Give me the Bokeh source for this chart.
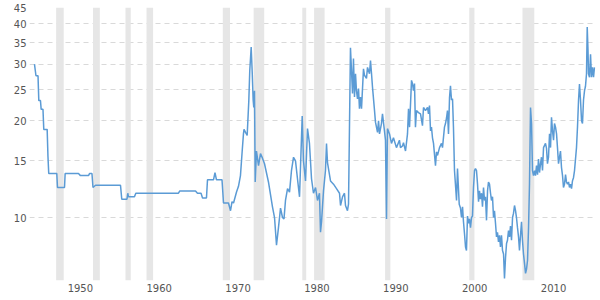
from bokeh.plotting import figure
from bokeh.models import Range1d, FixedTicker, BoxAnnotation, ColumnDataSource
from bokeh.embed import file_html
from bokeh.resources import INLINE

# Gold-to-oil ratio (monthly-ish samples)
years = [
    1946.08, 1946.27, 1946.53, 1946.63, 1946.84, 1946.93, 1947.16, 1947.26, 1947.69, 1947.79,
    1947.89, 1948.91, 1949.00, 1949.89, 1949.97, 1951.66, 1951.91, 1952.93, 1953.06, 1953.37,
    1953.50, 1953.82, 1956.99, 1957.15, 1957.81, 1957.91, 1958.00, 1958.76, 1958.93, 1964.34,
    1964.51, 1966.50, 1966.75, 1967.20, 1967.39, 1967.89, 1968.02, 1968.78, 1968.97, 1969.16,
    1969.86, 1970.05, 1970.68, 1970.94, 1971.13, 1971.32, 1971.70, 1971.95, 1972.20, 1972.42,
    1972.58, 1972.65, 1972.84, 1973.05, 1973.26, 1973.38, 1973.56, 1973.69, 1973.81, 1973.89,
    1973.98, 1974.07, 1974.23, 1974.49, 1974.74, 1974.99, 1975.25, 1975.75, 1976.26, 1976.52,
    1976.77, 1977.02, 1977.28, 1977.53, 1977.72, 1977.91, 1978.17, 1978.42, 1978.67, 1978.93,
    1979.18, 1979.43, 1979.69, 1980.03, 1980.19, 1980.45, 1980.70, 1980.95, 1981.21, 1981.46,
    1981.72, 1981.97, 1982.22, 1982.35, 1982.48, 1982.73, 1982.98, 1983.11, 1983.24, 1983.62,
    1984.00, 1984.38, 1984.76, 1984.89, 1985.14, 1985.39, 1985.52, 1985.77, 1985.90, 1986.15,
    1986.41, 1986.53, 1986.66, 1986.79, 1986.91, 1987.04, 1987.17, 1987.29, 1987.42, 1987.55,
    1987.80, 1987.93, 1988.18, 1988.31, 1988.56, 1988.69, 1988.82, 1988.94, 1989.20, 1989.32,
    1989.58, 1989.71, 1989.83, 1990.08, 1990.21, 1990.46, 1990.59, 1990.72, 1990.84, 1991.10,
    1991.35, 1991.60, 1991.98, 1992.36, 1992.49, 1992.75, 1992.87, 1993.13, 1993.38, 1993.51,
    1993.64, 1993.89, 1994.01, 1994.14, 1994.27, 1994.39, 1994.52, 1994.77, 1995.03, 1995.28,
    1995.41, 1995.66, 1995.92, 1996.04, 1996.17, 1996.30, 1996.42, 1996.55, 1996.68, 1996.93,
    1997.06, 1997.19, 1997.44, 1997.69, 1997.82, 1998.07, 1998.20, 1998.33, 1998.45, 1998.58,
    1998.71, 1998.83, 1998.96, 1999.09, 1999.21, 1999.34, 1999.60, 1999.72, 1999.94, 2000.10,
    2000.23, 2000.36, 2000.48, 2000.61, 2000.74, 2000.86, 2000.99, 2001.12, 2001.24, 2001.37,
    2001.50, 2001.62, 2001.75, 2001.88, 2002.00, 2002.13, 2002.26, 2002.39, 2002.51, 2002.64,
    2002.77, 2002.89, 2003.02, 2003.15, 2003.27, 2003.40, 2003.53, 2003.65, 2003.78, 2003.91,
    2004.03, 2004.16, 2004.29, 2004.41, 2004.54, 2004.67, 2004.79, 2004.92, 2005.05, 2005.17,
    2005.30, 2005.43, 2005.56, 2005.68, 2005.81, 2005.94, 2006.06, 2006.19, 2006.32, 2006.44,
    2006.57, 2006.70, 2006.82, 2006.95, 2007.08, 2007.20, 2007.33, 2007.46, 2007.58, 2007.71,
    2007.84, 2007.96, 2008.09, 2008.22, 2008.35, 2008.47, 2008.60, 2008.73, 2008.85, 2008.98,
    2009.11, 2009.23, 2009.36, 2009.49, 2009.61, 2009.74, 2009.87, 2009.99, 2010.12, 2010.25,
    2010.37, 2010.50, 2010.63, 2010.88, 2011.01, 2011.13, 2011.26, 2011.39, 2011.52, 2011.64,
    2011.77, 2011.90, 2012.02, 2012.15, 2012.28, 2012.40, 2012.53, 2012.66, 2012.78, 2012.91,
    2013.04, 2013.16, 2013.29, 2013.42, 2013.54, 2013.67, 2013.80, 2013.92, 2014.05, 2014.18,
    2014.30, 2014.43, 2014.56, 2014.81, 2014.94, 2015.07, 2015.19, 2015.32, 2015.45, 2015.57,
    2015.70, 2015.83, 2015.95, 2016.08, 2016.17, 2016.27, 2016.33, 2016.46, 2016.59, 2016.71,
    2016.84, 2016.97, 2017.09,
]
ratio = [
    30.0, 27.6, 27.6, 23.1, 23.1, 21.7, 21.7, 18.8, 18.8, 15.5,
    13.7, 13.7, 12.4, 12.4, 13.7, 13.7, 13.5, 13.5, 13.7, 13.7,
    12.4, 12.6, 12.6, 11.4, 11.4, 11.9, 11.6, 11.6, 11.9, 11.9,
    12.1, 12.1, 11.9, 11.9, 11.5, 11.5, 13.1, 13.1, 13.8, 13.1,
    13.1, 11.1, 11.1, 10.5, 11.2, 11.1, 12.0, 12.5, 13.5, 16.1,
    18.2, 18.8, 18.4, 18.0, 23.1, 28.6, 33.9, 28.3, 23.2, 22.0,
    24.8, 12.9, 16.1, 14.5, 15.8, 15.3, 14.7, 12.9, 10.8, 10.0,
    8.2, 9.3, 10.7, 10.0, 9.9, 11.3, 12.3, 12.0, 14.0, 15.4,
    15.0, 13.2, 11.6, 20.7, 15.0, 13.0, 18.9, 17.0, 13.2, 11.9,
    12.4, 11.3, 11.9, 9.0, 9.7, 12.1, 14.0, 17.0, 14.8, 13.0,
    12.7, 12.3, 11.9, 10.9, 11.6, 11.9, 10.9, 10.5, 11.0, 33.7,
    24.3, 31.2, 23.7, 28.0, 24.8, 23.4, 25.2, 21.8, 23.7, 21.8,
    29.0, 27.7, 27.1, 29.3, 28.0, 30.8, 28.0, 25.5, 21.5, 19.8,
    18.4, 20.0, 18.2, 19.6, 21.0, 18.6, 17.4, 9.9, 18.9, 18.2,
    17.0, 17.7, 16.5, 17.4, 16.5, 16.7, 17.1, 16.1, 18.2, 21.8,
    19.1, 26.7, 26.1, 24.8, 26.1, 19.1, 21.5, 21.2, 21.0, 19.3,
    22.0, 21.5, 22.0, 21.0, 22.3, 18.6, 19.1, 17.7, 17.0, 14.5,
    16.0, 15.6, 16.5, 17.0, 16.5, 19.1, 19.6, 20.4, 21.5, 18.2,
    23.6, 25.7, 23.2, 23.4, 19.1, 14.0, 11.3, 14.2, 11.0, 10.7,
    10.0, 10.8, 9.7, 8.9, 8.1, 7.9, 10.1, 9.6, 9.9, 9.3,
    10.0, 10.1, 12.4, 14.0, 14.2, 14.0, 12.7, 11.2, 12.1, 11.4,
    11.9, 10.8, 12.4, 11.3, 11.6, 9.8, 12.1, 12.9, 12.7, 11.9,
    11.3, 11.6, 10.0, 10.5, 9.6, 8.7, 9.0, 8.4, 8.8, 8.1,
    8.8, 7.9, 7.7, 6.46, 7.5, 8.3, 8.5, 9.1, 8.7, 9.4,
    8.5, 10.0, 10.3, 10.9, 10.5, 10.0, 9.3, 8.7, 7.9, 8.8,
    9.7, 8.5, 7.7, 7.2, 6.7, 6.9, 7.35, 9.3, 12.7, 22.0,
    19.6, 14.0, 13.5, 14.0, 13.5, 14.5, 13.6, 15.2, 13.8, 14.7,
    15.4, 14.0, 16.5, 17.0, 16.4, 14.7, 15.4, 18.2, 16.5, 20.5,
    18.6, 17.4, 19.6, 19.1, 18.2, 16.5, 14.7, 15.4, 16.1, 14.3,
    13.5, 12.4, 12.7, 13.6, 12.9, 12.7, 12.9, 12.4, 12.7, 12.3,
    13.0, 13.3, 14.0, 16.5, 19.2, 23.2, 26.0, 23.2, 20.0, 19.6,
    23.2, 24.8, 25.6, 28.0, 39.1, 33.1, 28.0, 27.3, 32.2, 27.3,
    29.3, 27.3, 29.3,
]

# US recessions (NBER), as fractional years
rec_start = [1948.83, 1953.50, 1957.62, 1960.29, 1969.96, 1973.87, 1980.04, 1981.54, 1990.54, 2001.21, 2007.96]
rec_end = [1949.79, 1954.37, 1958.29, 1961.12, 1970.87, 1975.21, 1980.54, 1982.87, 1991.21, 2001.87, 2009.46]

y_ticks = [10, 15, 20, 25, 30, 35, 40, 45]
x_tick_labels = ["1950", "1960", "1970", "1980", "1990", "2000", "2010"]
x_tick_pos = [1951.9, 1961.9, 1971.9, 1981.9, 1991.9, 2001.9, 2011.9]

p = figure(width=600, height=300, output_backend="svg", toolbar_location=None,
           y_axis_type="log",
           x_range=Range1d(1945.45, 2017.22), y_range=Range1d(6.37, 45),
           min_border_left=29, min_border_right=5, min_border_top=7, min_border_bottom=20)
p.outline_line_color = None
p.background_fill_color = "white"
p.border_fill_color = "white"

for s, e in zip(rec_start, rec_end):
    p.add_layout(BoxAnnotation(left=s, right=e, fill_color="#e6e6e6", fill_alpha=1.0,
                               line_color=None, level="underlay"))

src = ColumnDataSource(dict(x=years, y=ratio))
p.line("x", "y", source=src, line_color="#5b9bd5", line_width=1.5)

p.yaxis.ticker = FixedTicker(ticks=y_ticks)
p.xaxis.ticker = FixedTicker(ticks=x_tick_pos)
p.xaxis.major_label_overrides = {pos: lab for pos, lab in zip(x_tick_pos, x_tick_labels)}
p.yaxis.major_label_overrides = {t: str(t) for t in y_ticks}

for ax in (p.xaxis, p.yaxis):
    ax.axis_line_color = None
    ax.major_tick_line_color = None
    ax.minor_tick_line_color = None
    ax.major_tick_out = 0
    ax.major_tick_in = 0
    ax.minor_tick_out = 0
    ax.minor_tick_in = 0
    ax.major_label_text_font = "DejaVu Sans"
    ax.major_label_text_font_size = "10px"
    ax.major_label_text_color = "#555555"
p.yaxis.major_label_standoff = 3
p.xaxis.major_label_standoff = 3

p.xgrid.grid_line_color = None
p.ygrid.grid_line_color = "#d9d9d9"
p.ygrid.grid_line_dash = "5 4"
p.ygrid.grid_line_width = 1

open("out.html", "w").write(file_html(p, INLINE))
